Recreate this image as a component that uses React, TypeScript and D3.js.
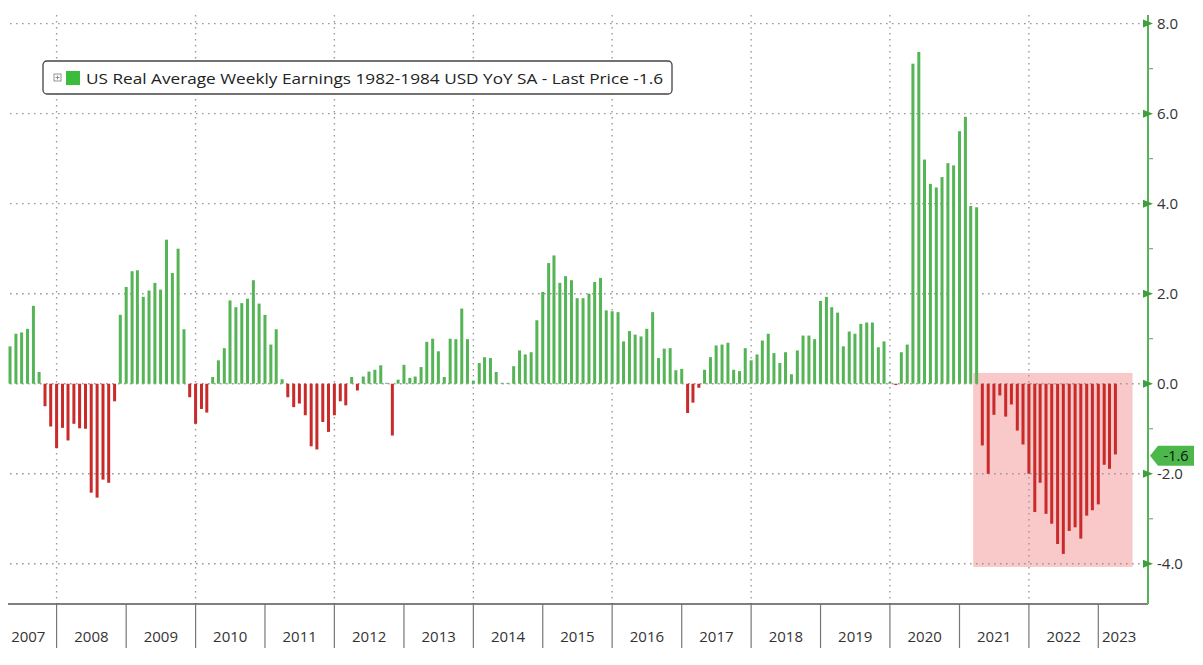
import React from 'react';
import * as d3 from 'd3';

// ---- DATA (US Real Average Weekly Earnings YoY %, monthly, Apr 2007 – Mar 2023) ----
const firstYear = 2007;
const firstMonthIndex = 3; // April
const values2007 = [0.83, 1.11, 1.14, 1.22, 1.73, 0.26, -0.5, -0.95, -1.43];
const values2008 = [-0.98, -1.26, -0.89, -0.99, -1.0, -2.42, -2.53, -2.13, -2.2, -0.39, 1.53, 2.15];
const values2009 = [2.5, 2.52, 1.93, 2.07, 2.24, 2.09, 3.2, 2.46, 3.0, 1.21, -0.3, -0.89];
const values2010 = [-0.56, -0.64, 0.15, 0.52, 0.79, 1.85, 1.7, 1.79, 1.89, 2.3, 1.78, 1.53];
const values2011 = [0.87, 1.21, 0.1, -0.3, -0.52, -0.44, -0.7, -1.39, -1.46, -0.85, -1.07, -0.7];
const values2012 = [-0.39, -0.48, 0.15, -0.15, 0.16, 0.27, 0.31, 0.41, 0.02, -1.15, 0.09, 0.42];
const values2013 = [0.13, 0.16, 0.37, 0.93, 1.0, 0.72, 0.15, 1.0, 0.99, 1.67, 0.99, 0.07];
const values2014 = [0.46, 0.59, 0.57, 0.26, 0.02, 0.02, 0.39, 0.74, 0.65, 0.7, 1.41, 2.04];
const values2015 = [2.68, 2.85, 2.24, 2.39, 2.3, 1.9, 1.9, 2.0, 2.26, 2.35, 1.63, 1.61];
const values2016 = [1.59, 0.94, 1.17, 1.09, 1.05, 1.22, 1.59, 0.57, 0.78, 0.79, 0.3, 0.33];
const values2017 = [-0.65, -0.42, -0.09, 0.31, 0.59, 0.85, 0.87, 0.91, 0.31, 0.28, 0.79, 0.52];
const values2018 = [0.65, 0.96, 1.11, 0.68, 0.46, 0.7, 0.21, 0.74, 1.07, 1.07, 0.99, 1.84];
const values2019 = [1.93, 1.7, 1.58, 0.83, 1.16, 1.11, 1.33, 1.36, 1.36, 0.81, 0.94, 0.04];
const values2020 = [-0.03, 0.7, 0.87, 7.11, 7.37, 4.98, 4.44, 4.36, 4.59, 4.9, 4.85, 5.61];
const values2021 = [5.93, 3.95, 3.92, -1.37, -2.0, -0.69, -0.26, -0.73, -0.46, -1.04, -1.35, -2.0];
const values2022 = [-2.85, -2.2, -2.89, -3.11, -3.56, -3.78, -3.27, -3.19, -3.44, -2.93, -2.81, -2.68];
const values2023 = [-1.8, -1.89, -1.57];
const yearlyValues = [
  values2007, values2008, values2009, values2010, values2011, values2012, values2013, values2014,
  values2015, values2016, values2017, values2018, values2019, values2020, values2021, values2022, values2023,
];
const yearLabels = ['2007', '2008', '2009', '2010', '2011', '2012', '2013', '2014', '2015', '2016', '2017', '2018', '2019', '2020', '2021', '2022', '2023'];
const majorTicks = [-4, -2, 0, 2, 4, 6, 8];
const minorTicks = [-3, -1, 1, 3, 5, 7];
const legendText = 'US Real Average Weekly Earnings 1982-1984 USD YoY SA - Last Price -1.6';
const lastPrice = -1.6;
const highlightFrom = new Date(2021, 2, 14);
const highlightTo = new Date(2023, 5, 30);
const highlightTop = 0.24;
const highlightBottom = -4.07;

// ---- LAYOUT ----
const W = 1203;
const H = 665;
const plotTop = 15;
const plotBottom = 604;
const plotLeft = 8;
const axisX = 1148;
const gridLeft = 10;
const gridRight = 1142;
const FONT = '"Open Sans", "Noto Sans", sans-serif';
const GREEN = '#55b455';
const RED = '#c92a2a';

const x = d3.scaleTime().domain([new Date(2008, 0, 1), new Date(2022, 0, 1)]).range([56.6, 1028.9]);
const y = d3.scaleLinear().domain([-4, 8]).range([563.8, 23.6]);

type Pt = { date: Date; value: number };
const series: Pt[] = [];
yearlyValues.forEach((arr, yi) => {
  const yr = firstYear + yi;
  const m0 = yi === 0 ? firstMonthIndex : 0;
  arr.forEach((v, i) => {
    // monthly observation plotted at month end
    series.push({ date: new Date(yr, m0 + i + 1, 1), value: v });
  });
});

export default function App() {
  const barW = 3;
  const zeroY = y(0);
  const gridDash = '1.6 4.4';
  const evenYearLines = d3.range(2008, 2023, 2).map((yr) => x(new Date(yr, 0, 1)));
  const yearBounds = yearLabels.map((lab) => {
    const yr = +lab;
    const s = x(new Date(yr, 0, 1));
    const e = x(new Date(yr + 1, 0, 1));
    return { lab, s, e, cx: (Math.max(s, 0) + Math.min(e, 1140)) / 2 };
  });
  const lpY = y(lastPrice);

  return (
    <svg
      width={W}
      height={H}
      viewBox={`0 0 ${W} ${H}`}
      style={{ position: 'absolute', left: 0, top: 0, background: '#fff', fontFamily: FONT }}
    >
      <rect x={0} y={0} width={W} height={H} fill="#fff" />

      {/* highlight region */}
      <rect
        x={x(highlightFrom)}
        y={y(highlightTop)}
        width={x(highlightTo) - x(highlightFrom)}
        height={y(highlightBottom) - y(highlightTop)}
        fill="#f9c8c8"
      />

      {/* horizontal dotted grid */}
      {majorTicks.map((t) => (
        <line key={'hg' + t} x1={gridLeft} x2={gridRight} y1={y(t)} y2={y(t)} stroke="#9a9a9a" strokeWidth={1.4} strokeDasharray={gridDash} />
      ))}
      {/* vertical dotted grid */}
      {evenYearLines.map((gx, i) => (
        <line key={'vg' + i} x1={gx} x2={gx} y1={plotTop} y2={plotBottom} stroke="#9a9a9a" strokeWidth={1.4} strokeDasharray={gridDash} />
      ))}

      {/* bars */}
      {series.map((d, i) => {
        const cx = x(d.date);
        const yv = y(d.value);
        const top = Math.min(yv, zeroY);
        const h = Math.max(Math.abs(yv - zeroY), 0.8);
        return (
          <rect key={'b' + i} x={cx - barW / 2} y={top} width={barW} height={h} fill={d.value >= 0 ? GREEN : RED} />
        );
      })}

      {/* bottom axis */}
      <line x1={plotLeft} x2={axisX} y1={plotBottom} y2={plotBottom} stroke="#555" strokeWidth={1.5} />
      {yearBounds.filter((b) => b.s > 0 && b.s < axisX).map((b) => (
        <line key={'sep' + b.lab} x1={b.s} x2={b.s} y1={plotBottom} y2={648} stroke="#777" strokeWidth={1.2} />
      ))}
      {yearBounds.map((b) => (
        <text key={'yl' + b.lab} x={b.cx} y={642} textAnchor="middle" fontSize={15} fill="#333">
          {b.lab}
        </text>
      ))}

      {/* right axis */}
      <line x1={axisX} x2={axisX} y1={plotTop} y2={plotBottom} stroke={GREEN} strokeWidth={2} />
      {minorTicks.map((t) => (
        <line key={'mt' + t} x1={axisX} x2={axisX + 5} y1={y(t)} y2={y(t)} stroke="#6bb56b" strokeWidth={1.2} />
      ))}
      {majorTicks.map((t) => (
        <g key={'mj' + t}>
          <path d={`M${axisX - 5},${y(t) - 4} L${axisX + 5},${y(t)} L${axisX - 5},${y(t) + 4} Z`} fill="#3f9f3f" />
          <text x={1157} y={y(t)} dy="0.36em" fontSize={15} fill="#333">
            {t.toFixed(1)}
          </text>
        </g>
      ))}

      {/* last price tag */}
      <path
        d={`M${axisX + 2},${lpY} L${axisX + 10},${lpY - 10} L${1194},${lpY - 10} L${1194},${lpY + 10} L${axisX + 10},${lpY + 10} Z`}
        fill="#4cb84c"
      />
      <text x={1176} y={lpY} dy="0.35em" textAnchor="middle" fontSize={14.5} fill="#111">
        {lastPrice.toFixed(1)}
      </text>

      {/* legend */}
      <rect x={43} y={61} width={629} height={33} rx={4} ry={4} fill="#fff" stroke="#444" strokeWidth={1.3} />
      <rect x={54} y={74} width={7} height={7} fill="none" stroke="#888" strokeWidth={0.9} />
      <line x1={55.5} x2={59.5} y1={77.5} y2={77.5} stroke="#888" strokeWidth={0.9} />
      <line x1={57.5} x2={57.5} y1={75.5} y2={79.5} stroke="#888" strokeWidth={0.9} />
      <rect x={66} y={71} width={14} height={14} fill="#3cbc3c" />
      <text x={86} y={83.5} fontSize={15} fill="#222" textLength={577} lengthAdjust="spacingAndGlyphs">
        {legendText}
      </text>
    </svg>
  );
}
